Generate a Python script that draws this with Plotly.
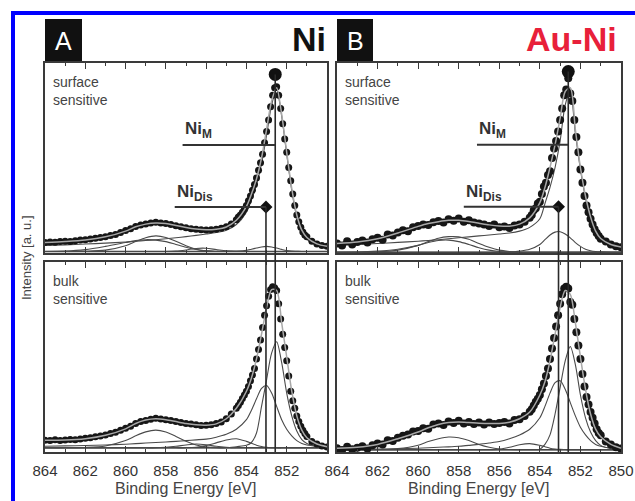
import plotly.graph_objects as go

W, H = 635, 501

# ---------------- data ----------------
# energy grid of the measured points: coarse in the flat part, fine across the main peak
ENERGY = [864.0, 863.75, 863.5, 863.25, 863.0, 862.75, 862.5, 862.25, 862.0, 861.75,
          861.5, 861.25, 861.0, 860.75, 860.5, 860.25, 860.0, 859.75, 859.5, 859.25,
          859.0, 858.75, 858.5, 858.25, 858.0, 857.75, 857.5, 857.25, 857.0, 856.75,
          856.5, 856.25, 856.0, 855.75, 855.5, 855.25, 855.0, 854.75, 854.5,
          854.4, 854.3, 854.2, 854.1, 854.0, 853.9, 853.8, 853.7, 853.6, 853.5,
          853.4, 853.3, 853.2, 853.1, 853.0, 852.9, 852.8, 852.7, 852.6, 852.5,
          852.4, 852.3, 852.2, 852.1, 852.0, 851.9, 851.8, 851.7, 851.6, 851.5,
          851.4, 851.3, 851.2, 851.1, 851.0,
          850.75, 850.5, 850.25, 850.0]

NI_SURF_DATA = [.055, .058, .056, .060, .062, .061, .065, .068, .070, .074,
                .077, .082, .086, .092, .098, .108, .118, .128, .140, .148,
                .153, .158, .162, .158, .155, .150, .143, .138, .133, .128,
                .125, .122, .121, .122, .125, .130, .138, .152, .175,
                .190, .200, .215, .232, .250, .275, .300, .330, .360, .395,
                .435, .475, .520, .580, .640, .700, .770, .830, .870, .875,
                .830, .760, .680, .600, .530, .450, .380, .310, .250, .200,
                .165, .135, .110, .095, .085,
                .062, .048, .040, .035]
AUNI_SURF_DATA = [.050, .040, .062, .045, .058, .066, .055, .072, .080, .070,
                  .098, .092, .108, .120, .115, .135, .142, .150, .148, .162,
                  .168, .160, .178, .170, .182, .165, .172, .160, .155, .150,
                  .142, .150, .135, .140, .132, .145, .150, .165, .185,
                  .200, .225, .235, .260, .270, .310, .350, .370, .410, .430,
                  .500, .550, .590, .640, .700, .760, .830, .860, .920, .840,
                  .800, .700, .610, .530, .440, .370, .300, .250, .215, .180,
                  .150, .125, .105, .090, .075,
                  .060, .045, .035, .030]
NI_BULK_DATA = [.062, .060, .065, .061, .063, .066, .064, .068, .072, .075,
                .080, .084, .090, .097, .104, .114, .125, .136, .150, .160,
                .166, .172, .178, .174, .170, .166, .160, .155, .150, .148,
                .143, .140, .141, .143, .150, .158, .175, .200, .230,
                .245, .262, .282, .300, .320, .345, .375, .405, .440, .490,
                .540, .590, .655, .720, .770, .820, .855, .870, .865, .850,
                .780, .700, .620, .550, .480, .400, .320, .270, .230, .190,
                .160, .135, .115, .097, .082,
                .055, .042, .032, .026]
AUNI_BULK_DATA = [.020, .010, .028, .015, .022, .030, .018, .035, .045, .040,
                  .062, .058, .075, .085, .092, .108, .110, .125, .122, .145,
                  .150, .142, .160, .152, .165, .150, .158, .148, .155, .145,
                  .155, .148, .152, .158, .150, .168, .172, .190, .212,
                  .225, .245, .265, .280, .300, .330, .360, .400, .440, .490,
                  .545, .600, .660, .720, .780, .830, .860, .870, .860, .790,
                  .775, .700, .630, .560, .490, .410, .345, .290, .250, .210,
                  .180, .150, .120, .100, .088,
                  .055, .040, .025, .018]

FIT_E = [864, 863, 862, 861, 860, 859.5, 859, 858.5, 858, 857.5,
         857, 856.5, 856, 855.5, 855, 854.5, 854, 853.75, 853.5, 853.25,
         853, 852.75, 852.5, 852.25, 852, 851.75, 851.5, 851.25, 851, 850.5, 850]

# --- Ni, surface sensitive
NI_SURF_FIT = [.055, .060, .068, .085, .115, .138, .152, .158, .155, .145,
               .134, .126, .122, .125, .137, .172, .245, .310, .390, .500,
               .650, .800, .870, .730, .530, .340, .200, .120, .082, .048, .035]
NI_SURF_M = [.040, .043, .047, .052, .058, .062, .066, .070, .075, .080,
             .086, .093, .100, .108, .120, .150, .215, .280, .360, .470,
             .620, .780, .860, .720, .520, .330, .190, .110, .072, .040, .028]
NI_SURF_DIS = [.008, .008, .008, .008, .008, .008, .008, .008, .008, .008,
               .008, .008, .008, .008, .009, .010, .014, .020, .026, .032,
               .035, .032, .026, .019, .013, .010, .009, .008, .008, .008, .008]
NI_SURF_SAT1 = [.008, .008, .009, .015, .038, .060, .080, .090, .082, .062,
                .038, .020, .011, .008, .008, .008, .008, .008, .008, .008,
                .008, .008, .008, .008, .008, .008, .008, .008, .008, .008, .008]
NI_SURF_SAT2 = [.008, .010, .018, .035, .055, .065, .070, .068, .060, .045,
                .030, .018, .011, .008, .008, .008, .008, .008, .008, .008,
                .008, .008, .008, .008, .008, .008, .008, .008, .008, .008, .008]
NI_SURF_SAT3 = [.008, .008, .008, .008, .008, .008, .008, .008, .008, .010,
                .016, .024, .025, .018, .011, .008, .008, .008, .008, .008,
                .008, .008, .008, .008, .008, .008, .008, .008, .008, .008, .008]

# --- Au-Ni, surface sensitive
AUNI_SURF_FIT = [.050, .058, .075, .105, .140, .155, .165, .172, .172, .166,
                 .157, .148, .142, .141, .152, .185, .265, .345, .450, .570,
                 .710, .850, .870, .650, .450, .300, .190, .115, .076, .045, .032]
AUNI_SURF_M = [.040, .045, .050, .056, .062, .066, .070, .075, .080, .085,
               .090, .095, .100, .105, .115, .135, .180, .260, .345, .450,
               .590, .780, .850, .630, .440, .290, .180, .110, .070, .040, .028]
AUNI_SURF_DIS = [.004, .004, .004, .004, .004, .004, .004, .004, .004, .004,
                 .004, .004, .004, .004, .010, .020, .045, .070, .095, .110,
                 .112, .100, .080, .055, .035, .020, .012, .008, .006, .004, .004]
AUNI_SURF_SAT1 = [.004, .004, .006, .015, .040, .060, .078, .086, .085, .072,
                  .050, .030, .015, .008, .004, .004, .004, .004, .004, .004,
                  .004, .004, .004, .004, .004, .004, .004, .004, .004, .004, .004]
AUNI_SURF_SAT2 = [.004, .005, .010, .020, .040, .055, .066, .068, .060, .045,
                  .028, .015, .008, .005, .004, .004, .004, .004, .004, .004,
                  .004, .004, .004, .004, .004, .004, .004, .004, .004, .004, .004]

# --- Ni, bulk sensitive
NI_BULK_FIT = [.062, .063, .070, .088, .122, .150, .168, .175, .170, .160,
               .150, .143, .141, .148, .175, .230, .320, .390, .490, .620,
               .760, .855, .850, .680, .500, .320, .190, .115, .075, .042, .028]
NI_BULK_M = [.022, .022, .022, .022, .022, .022, .022, .022, .022, .022,
             .022, .022, .022, .022, .022, .028, .035, .050, .100, .240,
             .380, .520, .580, .470, .310, .190, .110, .065, .045, .030, .025]
NI_BULK_DIS = [.030, .032, .034, .037, .041, .044, .047, .050, .053, .056,
               .060, .064, .068, .078, .093, .120, .170, .220, .280, .335,
               .350, .310, .240, .170, .120, .085, .060, .045, .037, .030, .026]
NI_BULK_SAT1 = [.022, .022, .024, .032, .060, .085, .106, .115, .105, .082,
                .056, .037, .027, .023, .022, .022, .022, .022, .022, .022,
                .022, .022, .022, .022, .022, .022, .022, .022, .022, .022, .022]
NI_BULK_SAT2 = [.022, .022, .022, .022, .022, .022, .022, .022, .022, .022,
                .022, .025, .034, .048, .063, .070, .056, .046, .036, .029,
                .025, .023, .022, .022, .022, .022, .022, .022, .022, .022, .022]
NI_BULK_SAT3 = [.022, .022, .022, .022, .022, .022, .022, .022, .025, .030,
                .037, .042, .038, .030, .025, .023, .022, .022, .022, .022,
                .022, .022, .022, .022, .022, .022, .022, .022, .022, .022, .022]

# --- Au-Ni, bulk sensitive
AUNI_BULK_FIT = [.020, .025, .040, .070, .105, .128, .145, .155, .158, .155,
                 .151, .150, .150, .157, .175, .210, .300, .370, .480, .620,
                 .760, .850, .830, .680, .500, .330, .200, .120, .080, .040, .020]
AUNI_BULK_M = [.012, .012, .012, .012, .012, .012, .012, .012, .012, .012,
               .012, .012, .012, .012, .012, .012, .015, .040, .090, .200,
               .340, .480, .555, .460, .300, .180, .105, .060, .035, .018, .014]
AUNI_BULK_DIS = [.012, .013, .015, .017, .020, .022, .025, .027, .030, .035,
                 .040, .047, .055, .070, .090, .120, .180, .240, .310, .365,
                 .375, .330, .260, .190, .130, .090, .060, .040, .030, .020, .015]
AUNI_BULK_SAT1 = [.012, .012, .013, .018, .036, .055, .070, .079, .075, .060,
                  .040, .025, .016, .013, .012, .012, .012, .012, .012, .012,
                  .012, .012, .012, .012, .012, .012, .012, .012, .012, .012, .012]
AUNI_BULK_SAT2 = [.012, .012, .012, .012, .012, .012, .012, .012, .012, .012,
                  .012, .012, .015, .025, .038, .044, .035, .028, .020, .016,
                  .014, .013, .012, .012, .012, .012, .012, .012, .012, .012, .012]

BASELINE = {"ni_surf": .008, "auni_surf": .004, "ni_bulk": .022, "auni_bulk": .012}

# peak positions (eV) and marker levels
NI_M_POS = {"Ni": 852.57, "Au-Ni": 852.60}
NI_DIS_POS = {"Ni": 853.03, "Au-Ni": 853.08}
NI_M_TOP = {"Ni": 0.94, "Au-Ni": 0.955}
NI_M_LEVEL = {"Ni": 0.568, "Au-Ni": 0.570}
NI_DIS_LEVEL = {"Ni": 0.242, "Au-Ni": 0.244}
NI_M_LABEL_START = {"Ni": 857.17, "Au-Ni": 857.10}
NI_DIS_LABEL_START = {"Ni": 857.56, "Au-Ni": 857.75}

TICKS_A = [864, 862, 860, 858, 856, 854, 852]
TICKS_B = [864, 862, 860, 858, 856, 854, 852, 850]

# ---------------- layout helpers ----------------
def px(x):
    return x / W


def py(y):
    return 1 - y / H


XA = [px(45), px(327)]
XB = [px(337), px(621)]
YT = [py(253), py(63)]
YBOT = [py(452), py(262)]

FRAME = "#3a3a3a"
COMP = "#4a4a4a"
ENV = "#a8a8a8"
DOT = "#161616"
FONT = "Liberation Sans, Arial, sans-serif"

fig = go.Figure()

panels = [
    ("x", "y", NI_SURF_DATA, NI_SURF_FIT,
     [NI_SURF_M, NI_SURF_DIS, NI_SURF_SAT1, NI_SURF_SAT2, NI_SURF_SAT3], BASELINE["ni_surf"], 7),
    ("x2", "y2", AUNI_SURF_DATA, AUNI_SURF_FIT,
     [AUNI_SURF_M, AUNI_SURF_DIS, AUNI_SURF_SAT1, AUNI_SURF_SAT2], BASELINE["auni_surf"], 8),
    ("x3", "y3", NI_BULK_DATA, NI_BULK_FIT,
     [NI_BULK_M, NI_BULK_DIS, NI_BULK_SAT1, NI_BULK_SAT2, NI_BULK_SAT3], BASELINE["ni_bulk"], 7),
    ("x4", "y4", AUNI_BULK_DATA, AUNI_BULK_FIT,
     [AUNI_BULK_M, AUNI_BULK_DIS, AUNI_BULK_SAT1, AUNI_BULK_SAT2], BASELINE["auni_bulk"], 8),
]

for xa, ya, dots, env, comps, base, msize in panels:
    assert len(dots) == len(ENERGY)
    assert len(env) == len(FIT_E)
    fig.add_trace(go.Scatter(x=[ENERGY[0], ENERGY[-1]], y=[base, base], xaxis=xa, yaxis=ya,
                             mode="lines", line=dict(color=FRAME, width=1.4), hoverinfo="skip"))
    for c in comps:
        assert len(c) == len(FIT_E)
        fig.add_trace(go.Scatter(x=FIT_E, y=c, xaxis=xa, yaxis=ya, mode="lines",
                                 line=dict(color=COMP, width=1.1, shape="spline", smoothing=0.8),
                                 hoverinfo="skip"))
    fig.add_trace(go.Scatter(x=ENERGY, y=dots, xaxis=xa, yaxis=ya, mode="markers",
                             marker=dict(color=DOT, size=msize, line=dict(width=0))))
    fig.add_trace(go.Scatter(x=FIT_E, y=env, xaxis=xa, yaxis=ya, mode="lines",
                             line=dict(color=ENV, width=1.5, shape="spline", smoothing=0.8),
                             hoverinfo="skip"))

shapes = []
annotations = []

for name, xa_top, ya_top, xa_bot, xdom in [("Ni", "x", "y", "x3", XA), ("Au-Ni", "x2", "y2", "x4", XB)]:
    top_paper = YT[0] + NI_M_TOP[name] * (YT[1] - YT[0])
    dis_paper = YT[0] + NI_DIS_LEVEL[name] * (YT[1] - YT[0])
    shapes.append(dict(type="line", xref=xa_bot, yref="paper",
                       x0=NI_M_POS[name], x1=NI_M_POS[name], y0=YBOT[0], y1=top_paper,
                       line=dict(color="#2a2a2a", width=1.6)))
    shapes.append(dict(type="line", xref=xa_bot, yref="paper",
                       x0=NI_DIS_POS[name], x1=NI_DIS_POS[name], y0=YBOT[0], y1=dis_paper,
                       line=dict(color="#2a2a2a", width=1.6)))
    shapes.append(dict(type="line", xref=xa_top, yref=ya_top,
                       x0=NI_M_LABEL_START[name], x1=NI_M_POS[name],
                       y0=NI_M_LEVEL[name], y1=NI_M_LEVEL[name],
                       line=dict(color="#333", width=2)))
    shapes.append(dict(type="line", xref=xa_top, yref=ya_top,
                       x0=NI_DIS_LABEL_START[name], x1=NI_DIS_POS[name],
                       y0=NI_DIS_LEVEL[name], y1=NI_DIS_LEVEL[name],
                       line=dict(color="#333", width=2)))
    fig.add_trace(go.Scatter(x=[NI_M_POS[name]], y=[NI_M_TOP[name]], xaxis=xa_top, yaxis=ya_top,
                             mode="markers", marker=dict(color="#111", size=13)))
    fig.add_trace(go.Scatter(x=[NI_DIS_POS[name]], y=[NI_DIS_LEVEL[name]], xaxis=xa_top, yaxis=ya_top,
                             mode="markers", marker=dict(color="#111", size=10, symbol="diamond")))
    annotations.append(dict(text="Ni<sub>M</sub>", xref=xa_top, yref=ya_top,
                            x=NI_M_LABEL_START[name], y=NI_M_LEVEL[name],
                            xanchor="left", yanchor="bottom", yshift=2, showarrow=False,
                            font=dict(family=FONT, size=17, color="#333", weight="bold")))
    annotations.append(dict(text="Ni<sub>Dis</sub>", xref=xa_top, yref=ya_top,
                            x=NI_DIS_LABEL_START[name], y=NI_DIS_LEVEL[name],
                            xanchor="left", yanchor="bottom", yshift=1, showarrow=False,
                            font=dict(family=FONT, size=17, color="#333", weight="bold")))
    annotations.append(dict(text="surface<br>sensitive", xref="paper", yref="paper",
                            x=xdom[0] + px(6), y=py(72), xanchor="left", yanchor="top",
                            align="left", showarrow=False,
                            font=dict(family=FONT, size=14, color="#444")))
    annotations.append(dict(text="bulk<br>sensitive", xref="paper", yref="paper",
                            x=xdom[0] + px(6), y=py(271), xanchor="left", yanchor="top",
                            align="left", showarrow=False,
                            font=dict(family=FONT, size=14, color="#444")))
    annotations.append(dict(text="Binding Energy [eV]", xref="paper", yref="paper",
                            x=(xdom[0] + xdom[1]) / 2, y=py(488), xanchor="center", yanchor="middle",
                            showarrow=False, font=dict(family=FONT, size=16, color="#444")))

for letter, x0, x1 in [("A", 45, 82), ("B", 337, 373)]:
    shapes.append(dict(type="rect", xref="paper", yref="paper", x0=px(x0), x1=px(x1),
                       y0=py(61), y1=py(19), fillcolor="#111", line=dict(width=0)))
    annotations.append(dict(text=letter, xref="paper", yref="paper", x=px((x0 + x1) / 2), y=py(41),
                            xanchor="center", yanchor="middle", showarrow=False,
                            font=dict(family=FONT, size=25, color="white")))

annotations.append(dict(text="Ni", xref="paper", yref="paper", x=px(328), y=py(39),
                        xanchor="right", yanchor="middle", showarrow=False,
                        font=dict(family=FONT, size=34, color="#111", weight="bold")))
annotations.append(dict(text="Au-Ni", xref="paper", yref="paper", x=px(619), y=py(39),
                        xanchor="right", yanchor="middle", showarrow=False,
                        font=dict(family=FONT, size=34, color="#e8203a", weight="bold")))
annotations.append(dict(text="Intensity [a. u.]", xref="paper", yref="paper", x=px(26), y=py(258),
                        xanchor="center", yanchor="middle", textangle=-90, showarrow=False,
                        font=dict(family=FONT, size=13, color="#444")))

shapes.append(dict(type="rect", xref="paper", yref="paper", x0=px(13), x1=px(645),
                   y0=py(515), y1=py(13), line=dict(color="#0000ff", width=4)))


def xaxis(domain, anchor, labels, tickvals):
    return dict(domain=domain, anchor=anchor, range=[864, 850], showline=True, linecolor=FRAME,
                linewidth=1.5, mirror="ticks", ticks="inside", ticklen=6, tickwidth=1.3,
                tickcolor=FRAME, tickmode="array", tickvals=tickvals,
                ticktext=[str(v) for v in tickvals], showticklabels=labels,
                ticklabelstandoff=4, automargin=False,
                tickfont=dict(family=FONT, size=15, color="#333"),
                showgrid=False, zeroline=False,
                minor=dict(tickmode="linear", tick0=850, dtick=1, ticks="inside", ticklen=3,
                           tickcolor=FRAME, showgrid=False))


def yaxis(domain, anchor):
    return dict(domain=domain, anchor=anchor, range=[0, 1], showline=True, linecolor=FRAME,
                linewidth=1.5, mirror=True, ticks="", showticklabels=False, automargin=False,
                showgrid=False, zeroline=False)


fig.update_layout(
    width=W, height=H, margin=dict(l=0, r=0, t=0, b=0, autoexpand=False),
    paper_bgcolor="white", plot_bgcolor="white", showlegend=False,
    xaxis=xaxis(XA, "y", False, TICKS_B), yaxis=yaxis(YT, "x"),
    xaxis2=xaxis(XB, "y2", False, TICKS_B), yaxis2=yaxis(YT, "x2"),
    xaxis3=xaxis(XA, "y3", True, TICKS_A), yaxis3=yaxis(YBOT, "x3"),
    xaxis4=xaxis(XB, "y4", True, TICKS_B), yaxis4=yaxis(YBOT, "x4"),
    shapes=shapes, annotations=annotations,
    font=dict(family=FONT),
)

fig.write_html("out.html", config={"displayModeBar": False},
               post_script="document.body.style.margin='0';document.body.style.overflow='hidden';")
